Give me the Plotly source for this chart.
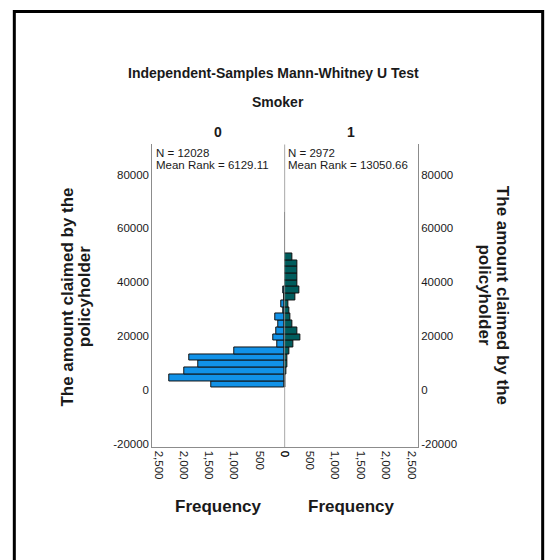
import plotly.graph_objects as go

W, H = 557, 560

# ---- data ----
bin_width = 2500
bin_start = 750
group0_label = "0"
group1_label = "1"
group0_counts = [1465, 2290, 2000, 1720, 1890, 990, 150, 214, 162, 117, 181, 30, 60, 0, 15]
group1_counts = [13, 26, 39, 50, 58, 97, 175, 310, 265, 160, 120, 97, 85, 220, 292,
                 262, 262, 262, 262, 156, 5, 4, 3, 3, 2, 2]
group0_n, group0_rank = "12028", "6129.11"
group1_n, group1_rank = "2972", "13050.66"
freq_ticks = [0, 500, 1000, 1500, 2000, 2500]
freq_ticktext = ["0", "500", "1,000", "1,500", "2,000", "2,500"]
y_ticks = [-20000, 0, 20000, 40000, 60000, 80000]
y_ticktext = ["-20000", "0", "20000", "40000", "60000", "80000"]
y_title_lines = ["The amount claimed by the", "policyholder"]

centers0 = [bin_start + bin_width * (i + 0.5) for i in range(len(group0_counts))]
centers1 = [bin_start + bin_width * (i + 0.5) for i in range(len(group1_counts))]

BLUE = "#1192e8"
TEAL = "#005d5d"
GREY = "#8c8c8c"
FONT = "Liberation Sans"
TXT = "#1a1a1a"

def px(x):
    return x / W

def py(y):
    return 1 - y / H

left, mid, right = 149.5, 284.5, 421
top, bottom = 145, 449

fig = go.Figure()
fig.add_trace(go.Bar(y=centers0, x=group0_counts, orientation="h", width=bin_width,
                     marker=dict(color=BLUE, line=dict(color="#111", width=1)),
                     xaxis="x", yaxis="y", showlegend=False))
fig.add_trace(go.Bar(y=centers1, x=group1_counts, orientation="h", width=bin_width,
                     marker=dict(color=TEAL, line=dict(color="#111", width=1)),
                     xaxis="x2", yaxis="y2", showlegend=False))

yrange = [-21400, 91200]
xmax = 2630
tickfont = dict(family=FONT, size=11.5, color=TXT)

fig.update_layout(
    width=W, height=H, margin=dict(l=0, r=0, t=0, b=0),
    paper_bgcolor="white", plot_bgcolor="white",
    bargap=0,
    xaxis=dict(domain=[px(left), px(mid)], range=[xmax, 0], tickvals=freq_ticks,
               ticktext=freq_ticktext, tickangle=90, tickfont=tickfont,
               showgrid=False, zeroline=False, showline=True, linecolor=GREY,
               linewidth=1, ticks="", anchor="y"),
    xaxis2=dict(domain=[px(mid), px(right)], range=[0, xmax], tickvals=freq_ticks,
                ticktext=freq_ticktext, tickangle=90, tickfont=tickfont,
                showgrid=False, zeroline=False, showline=True, linecolor=GREY,
                linewidth=1, ticks="", anchor="y2"),
    yaxis=dict(domain=[py(bottom), py(top)], range=yrange, tickvals=y_ticks,
               ticktext=y_ticktext, tickfont=tickfont, showgrid=False,
               zeroline=False, showline=True, linecolor=GREY, linewidth=1,
               ticks="", anchor="x", side="left"),
    yaxis2=dict(domain=[py(bottom), py(top)], range=yrange, tickvals=y_ticks,
                ticktext=y_ticktext, tickfont=tickfont, showgrid=False,
                zeroline=False, showline=True, linecolor=GREY, linewidth=1,
                ticks="", anchor="x2", side="right"),
)

# centre divider line at frequency 0
fig.add_shape(type="line", xref="x2", yref="y2 domain", x0=0, x1=0, y0=0, y1=1,
              line=dict(color=GREY, width=1.5))
# outer frame (bottom edge lies below the visible page)
fig.add_shape(type="rect", xref="paper", yref="paper", x0=px(8.5), x1=px(548.5),
              y0=py(575), y1=py(11.5), line=dict(color="black", width=3))

def ann(text, x, y, size, bold=False, xanchor="center", yanchor="middle", angle=0):
    t = f"<b>{text}</b>" if bold else text
    fig.add_annotation(text=t, x=px(x), y=py(y), xref="paper", yref="paper",
                       showarrow=False, xanchor=xanchor, yanchor=yanchor,
                       textangle=angle, font=dict(family=FONT, size=size, color=TXT),
                       align="left")

ann("Independent-Samples Mann-Whitney U Test", 273, 73, 14, bold=True)
ann("Smoker", 278, 102, 14, bold=True)
ann(group0_label, 217, 132, 14, bold=True)
ann(group1_label, 353, 132, 14, bold=True)
ann(f"N = {group0_n}", 151, 154, 11.5, xanchor="left")
ann(f"Mean Rank = {group0_rank}", 151, 166, 11.5, xanchor="left")
ann(f"N = {group1_n}", 286, 154, 11.5, xanchor="left")
ann(f"Mean Rank = {group1_rank}", 286, 166, 11.5, xanchor="left")
ann(y_title_lines[0], 63, 298, 17, bold=True, angle=-90)
ann(y_title_lines[1], 81, 298, 17, bold=True, angle=-90)
ann(y_title_lines[0], 507, 296, 17, bold=True, angle=90)
ann(y_title_lines[1], 489, 296, 17, bold=True, angle=90)
ann("Frequency", 217, 508, 17, bold=True)
ann("Frequency", 353, 508, 17, bold=True)

fig.write_html("out.html")
